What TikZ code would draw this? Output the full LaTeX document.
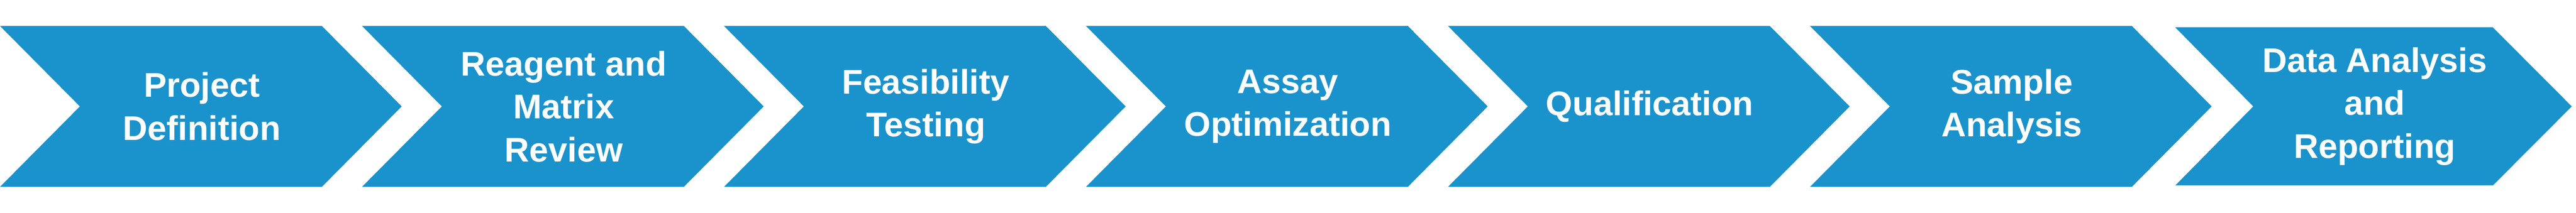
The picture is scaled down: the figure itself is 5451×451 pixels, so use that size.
\documentclass[tikz,border=0pt]{standalone}
\usepackage{fontspec}
\setmainfont{Liberation Sans}
\definecolor{stepblue}{RGB}{26,146,204}
\begin{document}
\begin{tikzpicture}[x=0.01cm,y=-0.01cm,
  chev/.style={fill=stepblue,draw=none},
  steplabel/.style={text=white,align=center,inner sep=0pt,
    font=\fontsize{20.6}{25.9}\selectfont\bfseries}]
\useasboundingbox (0,0) rectangle (5451,451);
\foreach \i in {0,...,5}{
  \pgfmathsetmacro{\s}{766*\i}
  \fill[chev] (\s,55) -- ({\s+681},55) -- ({\s+850},225.5) -- ({\s+681},396)
     -- (\s,396) -- ({\s+169},225.5) -- cycle;
}
\fill[chev] (4603,58) -- (5275,58) -- (5442,225.5) -- (5275,393)
   -- (4603,393) -- (4768,225.5) -- cycle;
\node[steplabel] (s1) at (427,225.5) {Project\\Definition};
\node[steplabel] (s2) at (1193,225.5) {Reagent and\\Matrix\\Review};
\node[steplabel] (s3) at (1959,225.5) {Feasibility\\Testing};
\node[steplabel] (s4) at (2725,225.5) {Assay\\Optimization};
\node[steplabel] (s5) at (3491,225.5) {Qualification};
\node[steplabel] (s6) at (4257,225.5) {Sample\\Analysis};
\node[steplabel] (s7) at (5025,225.5) {Data Analysis\\and\\Reporting};
\end{tikzpicture}
\end{document}
